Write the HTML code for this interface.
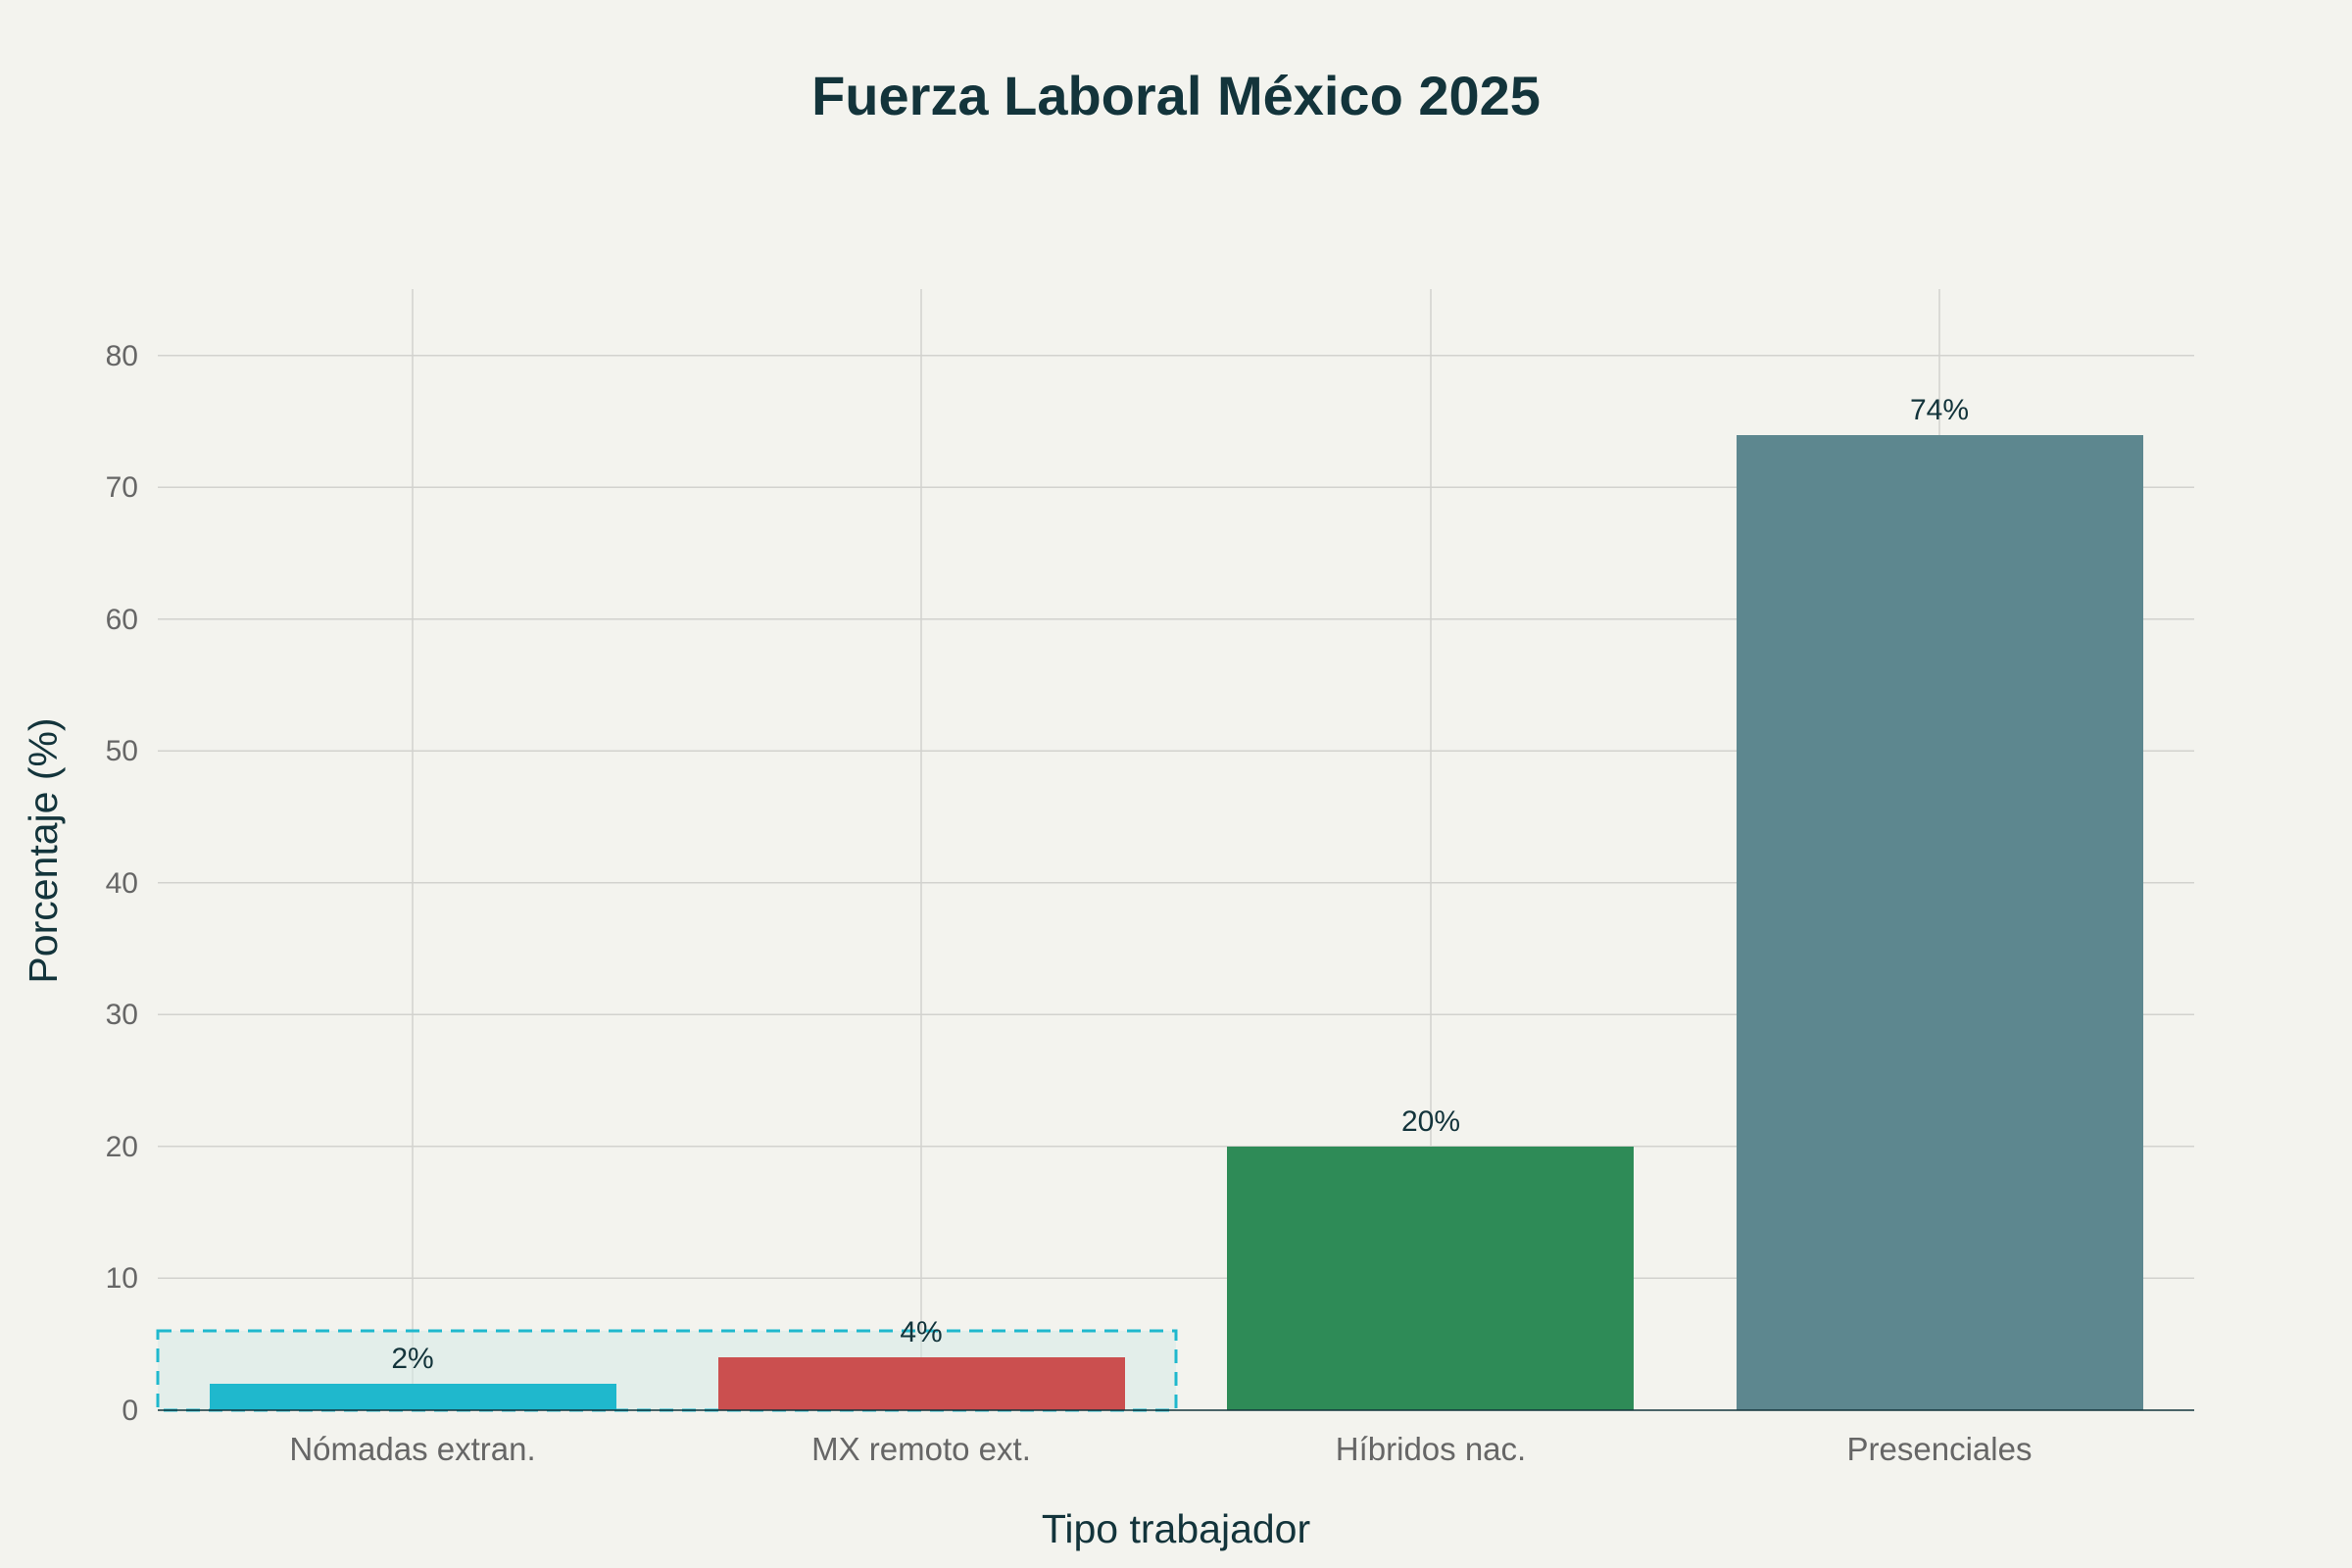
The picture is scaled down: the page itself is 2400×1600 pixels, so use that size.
<!DOCTYPE html>
<html><head><meta charset="utf-8"><style>
html,body{margin:0;padding:0;background:#F3F3EE;}
svg{display:block;font-family:"Liberation Sans",sans-serif;}
</style></head><body>
<svg width="2400" height="1600" viewBox="0 0 2400 1600" xmlns="http://www.w3.org/2000/svg">
<rect width="2400" height="1600" fill="#F3F3EE"/>
<text x="1200" y="117" text-anchor="middle" font-size="56" font-weight="bold" fill="#13343B">Fuerza Laboral México 2025</text>
<g stroke="#D2D2CE" stroke-width="1.5">
<line x1="161" x2="2239" y1="1304.3" y2="1304.3"/>
<line x1="161" x2="2239" y1="1169.8" y2="1169.8"/>
<line x1="161" x2="2239" y1="1035.3" y2="1035.3"/>
<line x1="161" x2="2239" y1="900.8" y2="900.8"/>
<line x1="161" x2="2239" y1="766.3" y2="766.3"/>
<line x1="161" x2="2239" y1="631.8" y2="631.8"/>
<line x1="161" x2="2239" y1="497.3" y2="497.3"/>
<line x1="161" x2="2239" y1="362.8" y2="362.8"/>
<line x1="421" x2="421" y1="295" y2="1439"/>
<line x1="940" x2="940" y1="295" y2="1439"/>
<line x1="1460" x2="1460" y1="295" y2="1439"/>
<line x1="1979" x2="1979" y1="295" y2="1439"/>
</g>
<rect x="161" y="1358" width="1039" height="81" fill="#D3EAE6" fill-opacity="0.5" stroke="#1FB8CD" stroke-width="3" stroke-dasharray="14,9"/>
<rect x="214" y="1412" width="415" height="27" fill="#1FB8CD"/>
<rect x="733" y="1385" width="415" height="54" fill="#CB4F4F"/>
<rect x="1252" y="1170" width="415" height="269" fill="#2E8B57"/>
<rect x="1772" y="444" width="415" height="995" fill="#5D878F"/>
<line x1="161" x2="2239" y1="1439" y2="1439" stroke="#13343B" stroke-width="1.5"/>
<g font-size="30" fill="#13343B" text-anchor="middle">
<text x="421" y="1396">2%</text>
<text x="940" y="1369">4%</text>
<text x="1460" y="1154">20%</text>
<text x="1979" y="428">74%</text>
</g>
<g font-size="30" fill="#666" text-anchor="end">
<text x="141" y="1449">0</text>
<text x="141" y="1314">10</text>
<text x="141" y="1180">20</text>
<text x="141" y="1045">30</text>
<text x="141" y="911">40</text>
<text x="141" y="776">50</text>
<text x="141" y="642">60</text>
<text x="141" y="507">70</text>
<text x="141" y="373">80</text>
</g>
<g font-size="33" fill="#666" text-anchor="middle">
<text x="421" y="1490">Nómadas extran.</text>
<text x="940" y="1490">MX remoto ext.</text>
<text x="1460" y="1490">Híbridos nac.</text>
<text x="1979" y="1490">Presenciales</text>
</g>
<text x="1200" y="1574" text-anchor="middle" font-size="41" fill="#13343B">Tipo trabajador</text>
<text transform="translate(58,868) rotate(-90)" text-anchor="middle" font-size="41" fill="#13343B">Porcentaje (%)</text>
</svg>
</body></html>
